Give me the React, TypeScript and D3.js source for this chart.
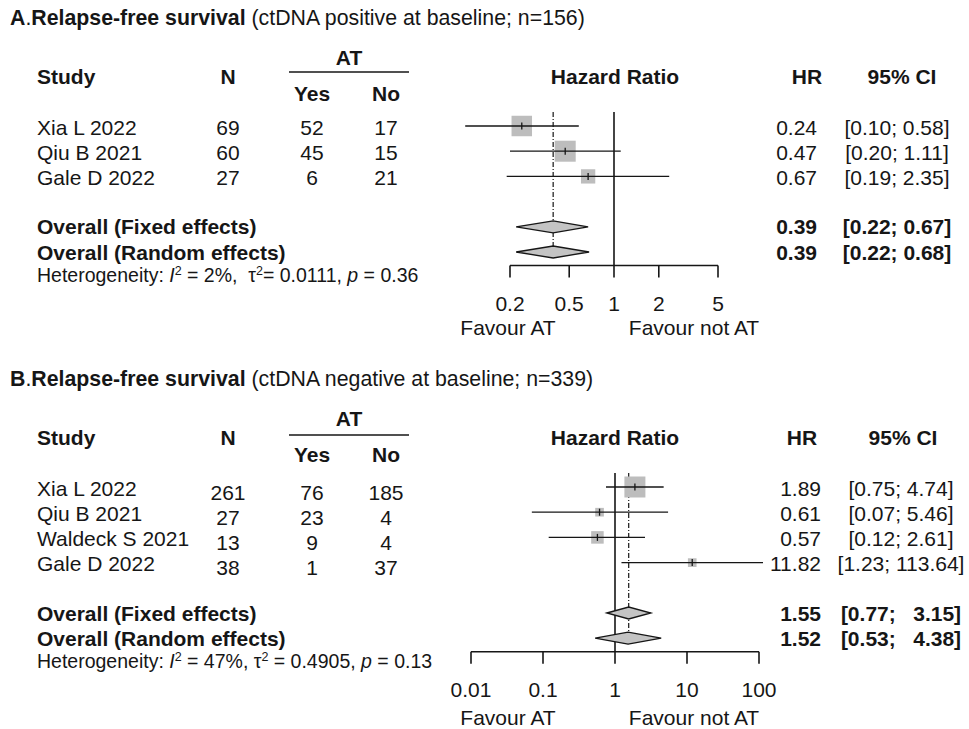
import React from "react";
import * as d3 from "d3";

// ---------- Panel A data ----------
const studiesA = ["Xia L 2022", "Qiu B 2021", "Gale D 2022"];
const nA = [69, 60, 27];
const yesA = [52, 45, 6];
const noA = [17, 15, 21];
const hrA = [0.24, 0.47, 0.67];
const lowerA = [0.1, 0.2, 0.19];
const upperA = [0.58, 1.11, 2.35];
const weightA = [39, 41, 19];
const overallHrA = [0.39, 0.39];
const overallLowerA = [0.22, 0.22];
const overallUpperA = [0.67, 0.68];
const ticksA = [0.2, 0.5, 1, 2, 5];
const tickLabelsA = ["0.2", "0.5", "1", "2", "5"];
const hetA = { i2: "2%", tau2: "0.0111", p: "0.36" };

// ---------- Panel B data ----------
const studiesB = ["Xia L 2022", "Qiu B 2021", "Waldeck S 2021", "Gale D 2022"];
const nB = [261, 27, 13, 38];
const yesB = [76, 23, 9, 1];
const noB = [185, 4, 4, 37];
const hrB = [1.89, 0.61, 0.57, 11.82];
const lowerB = [0.75, 0.07, 0.12, 1.23];
const upperB = [4.74, 5.46, 2.61, 113.64];
const weightB = [59, 10, 21, 10];
const overallHrB = [1.55, 1.52];
const overallLowerB = [0.77, 0.53];
const overallUpperB = [3.15, 4.38];
const ticksB = [0.01, 0.1, 1, 10, 100];
const tickLabelsB = ["0.01", "0.1", "1", "10", "100"];
const hetB = { i2: "47%", tau2: "0.4905", p: "0.13" };

const overallLabels = ["Overall (Fixed effects)", "Overall (Random effects)"];

const FONT = '"Liberation Sans", Arial, Helvetica, sans-serif';
const INK = "#161616";
const PRE = { whiteSpace: "pre" as const };

type PanelProps = {
  oy: number;
  letter: string;
  subtitle: string;
  studies: string[];
  n: number[];
  yes: number[];
  no: number[];
  hr: number[];
  lo: number[];
  hi: number[];
  w: number[];
  oHr: number[];
  oLo: number[];
  oHi: number[];
  ticks: number[];
  tickLabels: string[];
  het: { i2: string; tau2: string; p: string };
  afterI2: string;
  beforeEq: string;
  domain: [number, number];
  range: [number, number];
  hrRight: number;
  ciCenter: number;
  hrHeadX: number;
  ciHeadX: number;
  numDy: number;
  favourDy: number;
  lineDy: number;
};

function Panel(p: PanelProps) {
  const x = d3.scaleLog().domain(p.domain).range(p.range);
  const step = 25.2;
  const firstRow = 126 + p.oy;
  const rowY = p.studies.map((_, i) => firstRow + i * step);
  const ovY = [firstRow + (p.studies.length + 1) * step, firstRow + (p.studies.length + 2) * step];
  const axisY = ovY[1] + 13.5;
  const size = d3.scaleSqrt().domain([0, d3.max(p.w) as number]).range([0, 21]);
  const fmt = d3.format(".2f");
  const upW = d3.max(p.hi.map((v) => fmt(v).length)) as number;
  const ci = (l: number, u: number, pad: boolean) =>
    `[${fmt(l)}; ${pad ? fmt(u).padStart(upW, " ") : fmt(u)}]`;
  const fs = 21;
  const bl = 7.5; // baseline offset for centre
  const oy = p.oy;
  const top = firstRow - 14;

  return (
    <g fontFamily={FONT} fill={INK}>
      {/* Title */}
      <text x={10} y={25 + oy} fontSize={21.3} xmlSpace="preserve" style={PRE}>
        <tspan fontWeight="bold">{p.letter}</tspan>
        <tspan>.</tspan>
        <tspan fontWeight="bold">Relapse-free survival</tspan>
        <tspan>{" " + p.subtitle}</tspan>
      </text>

      {/* Headers */}
      <g fontWeight="bold" fontSize={fs}>
        <text x={37} y={76 + oy + bl}>Study</text>
        <text x={228} y={76 + oy + bl} textAnchor="middle">N</text>
        <text x={349} y={57 + oy + bl} textAnchor="middle">AT</text>
        <text x={312} y={93 + oy + bl} textAnchor="middle">Yes</text>
        <text x={386} y={93 + oy + bl} textAnchor="middle">No</text>
        <text x={615} y={76 + oy + bl} textAnchor="middle">Hazard Ratio</text>
        <text x={p.hrHeadX} y={76 + oy + bl} textAnchor="middle">HR</text>
        <text x={p.ciHeadX} y={76 + oy + bl} textAnchor="middle">95% CI</text>
      </g>
      <line x1={289} x2={409} y1={72 + oy + p.lineDy} y2={72 + oy + p.lineDy} stroke={INK} strokeWidth={1.6} />

      {/* Study rows text */}
      <g fontSize={fs}>
        {p.studies.map((s, i) => (
          <g key={s}>
            <text x={37} y={rowY[i] + bl + 1}>{s}</text>
            <text x={228} y={rowY[i] + bl + 1 + p.numDy} textAnchor="middle">{p.n[i]}</text>
            <text x={312} y={rowY[i] + bl + 1 + p.numDy} textAnchor="middle">{p.yes[i]}</text>
            <text x={386} y={rowY[i] + bl + 1 + p.numDy} textAnchor="middle">{p.no[i]}</text>
            <text x={p.hrRight} y={rowY[i] + bl + 1} textAnchor="end">{fmt(p.hr[i])}</text>
            <text x={p.ciCenter} y={rowY[i] + bl + 1} textAnchor="middle" xmlSpace="preserve" style={PRE}>
              {ci(p.lo[i], p.hi[i], false)}
            </text>
          </g>
        ))}
      </g>

      {/* Overall rows text */}
      <g fontSize={fs} fontWeight="bold">
        {overallLabels.map((s, i) => (
          <g key={s}>
            <text x={37} y={ovY[i] + bl}>{s}</text>
            <text x={p.hrRight} y={ovY[i] + bl} textAnchor="end">{fmt(p.oHr[i])}</text>
            <text x={p.ciCenter} y={ovY[i] + bl} textAnchor="middle" xmlSpace="preserve" style={PRE}>
              {ci(p.oLo[i], p.oHi[i], true)}
            </text>
          </g>
        ))}
      </g>

      {/* Heterogeneity */}
      <text x={37} y={ovY[1] + 23.5 + 6.5} fontSize={19.5} xmlSpace="preserve" style={PRE}>
        <tspan>Heterogeneity: </tspan>
        <tspan fontStyle="italic">I</tspan>
        <tspan dy={-7} fontSize={12.5}>2</tspan>
        <tspan dy={7}>{` = ${p.het.i2},${p.afterI2}`}</tspan>
        <tspan>τ</tspan>
        <tspan dy={-7} fontSize={12.5}>2</tspan>
        <tspan dy={7}>{`${p.beforeEq}= ${p.het.tau2}, `}</tspan>
        <tspan fontStyle="italic">p</tspan>
        <tspan>{` = ${p.het.p}`}</tspan>
      </text>

      {/* Reference line at 1 */}
      <line x1={x(1)} x2={x(1)} y1={top} y2={axisY} stroke={INK} strokeWidth={1.6} />
      {/* Overall estimate dash-dot line */}
      <line
        x1={x(p.oHr[0])}
        x2={x(p.oHr[0])}
        y1={top}
        y2={ovY[1]}
        stroke={INK}
        strokeWidth={1.2}
        strokeDasharray="5,2,1,2"
      />

      {/* Study CIs and squares */}
      {p.studies.map((s, i) => {
        const cx = x(p.hr[i]);
        const side = size(p.w[i]);
        return (
          <g key={"m" + s}>
            <rect x={cx - side / 2} y={rowY[i] - side / 2} width={side} height={side} fill="#bdbdbd" />
            <line x1={x(p.lo[i])} x2={x(p.hi[i])} y1={rowY[i]} y2={rowY[i]} stroke={INK} strokeWidth={1.3} />
            <line x1={cx} x2={cx} y1={rowY[i] - 3.5} y2={rowY[i] + 3.5} stroke={INK} strokeWidth={1.3} />
          </g>
        );
      })}

      {/* Overall diamonds */}
      {p.oHr.map((h, i) => {
        const y = ovY[i];
        const pts = [
          [x(p.oLo[i]), y],
          [x(h), y - 6],
          [x(p.oHi[i]), y],
          [x(h), y + 6],
        ];
        return (
          <polygon
            key={"d" + i}
            points={pts.map((q) => q.join(",")).join(" ")}
            fill="#c4c4c4"
            stroke={INK}
            strokeWidth={1.3}
          />
        );
      })}

      {/* Axis */}
      <line x1={x(p.domain[0])} x2={x(p.domain[1])} y1={axisY} y2={axisY} stroke={INK} strokeWidth={1.6} />
      {p.ticks.map((t, i) => (
        <g key={"t" + t}>
          <line x1={x(t)} x2={x(t)} y1={axisY} y2={axisY + 12} stroke={INK} strokeWidth={1.6} />
          <text x={x(t)} y={axisY + 38 + bl} fontSize={fs} textAnchor="middle">
            {p.tickLabels[i]}
          </text>
        </g>
      ))}
      <text x={508} y={axisY + p.favourDy + bl} fontSize={fs} textAnchor="middle">Favour AT</text>
      <text x={694} y={axisY + p.favourDy + bl} fontSize={fs} textAnchor="middle">Favour not AT</text>
    </g>
  );
}

export default function App() {
  return (
    <svg
      width={969}
      height={729}
      viewBox="0 0 969 729"
      style={{ position: "absolute", left: 0, top: 0, background: "#fff" }}
    >
      <rect width={969} height={729} fill="#fff" />
      <Panel
        oy={0}
        letter="A"
        subtitle="(ctDNA positive at baseline; n=156)"
        studies={studiesA}
        n={nA}
        yes={yesA}
        no={noA}
        hr={hrA}
        lo={lowerA}
        hi={upperA}
        w={weightA}
        oHr={overallHrA}
        oLo={overallLowerA}
        oHi={overallUpperA}
        ticks={ticksA}
        tickLabels={tickLabelsA}
        het={hetA}
        afterI2="  "
        beforeEq=""
        domain={[0.2, 5]}
        range={[510, 718]}
        hrRight={817}
        ciCenter={897}
        hrHeadX={807}
        ciHeadX={902}
        numDy={0}
        favourDy={62}
        lineDy={0}
      />
      <Panel
        oy={361}
        letter="B"
        subtitle="(ctDNA negative at baseline; n=339)"
        studies={studiesB}
        n={nB}
        yes={yesB}
        no={noB}
        hr={hrB}
        lo={lowerB}
        hi={upperB}
        w={weightB}
        oHr={overallHrB}
        oLo={overallLowerB}
        oHi={overallUpperB}
        ticks={ticksB}
        tickLabels={tickLabelsB}
        het={hetB}
        afterI2=" "
        beforeEq=" "
        domain={[0.01, 100]}
        range={[471, 759]}
        hrRight={821}
        ciCenter={901}
        hrHeadX={802}
        ciHeadX={903}
        numDy={4}
        favourDy={66}
        lineDy={2}
      />
    </svg>
  );
}
